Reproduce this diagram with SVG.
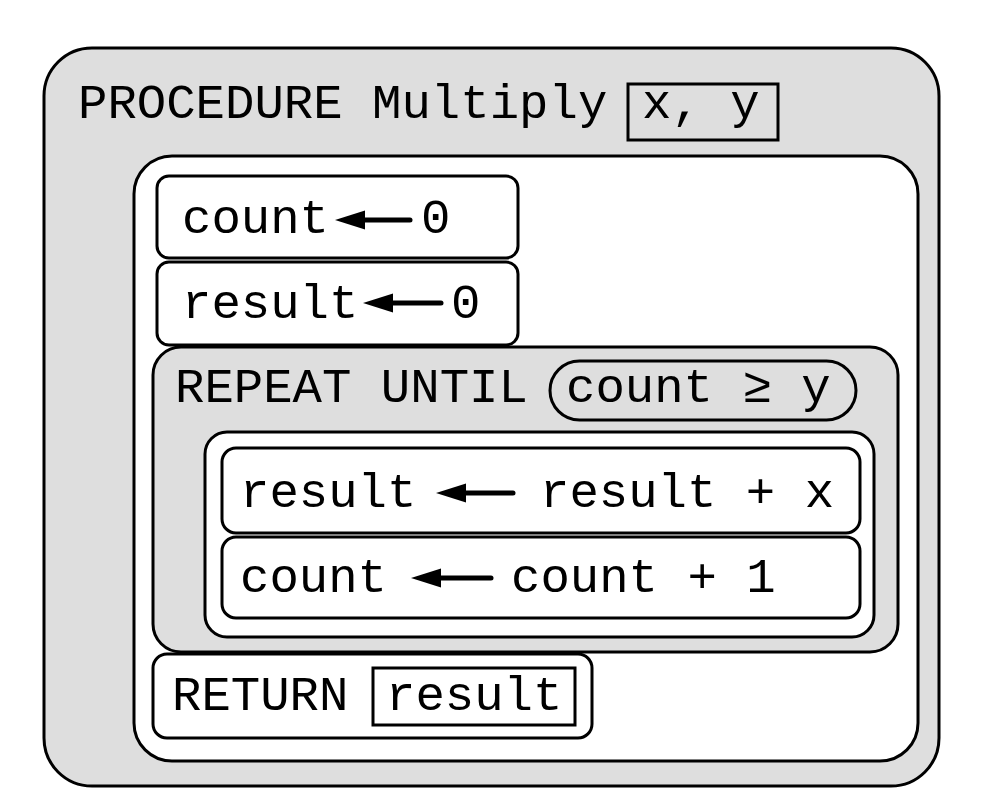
<svg xmlns="http://www.w3.org/2000/svg" width="1000" height="810" viewBox="0 0 1000 810">
<style>
.gray{fill:#dedede;stroke:#000;stroke-width:3}
.white{fill:#fff;stroke:#000;stroke-width:3}
.box{fill:none;stroke:#000;stroke-width:3}
.t{font-family:"Liberation Mono","Courier New",monospace;font-size:49px;fill:#000}
.arr{stroke:#000;stroke-width:5;stroke-linecap:round;marker-end:url(#head)}
</style>
<defs>
<marker id="head" markerUnits="userSpaceOnUse" markerWidth="34" markerHeight="26" viewBox="0 -13 34 26" refX="12" refY="0" orient="auto">
<path d="M0,-9.5 L30,0 L0,9.5 Z" fill="#000"/>
</marker>
</defs>
<rect width="1000" height="810" fill="#fff"/>
<g id="procedure">
<rect class="gray" x="44" y="48" width="895" height="738" rx="48"/>
<text class="t" x="78" y="118">PROCEDURE Multiply</text>
<rect class="box" x="628" y="84" width="150" height="56"/>
<text class="t" x="642" y="118">x, y</text>
</g>
<g id="body">
<rect class="white" x="134" y="156" width="784" height="605" rx="38"/>
</g>
<g id="assign-count">
<rect class="white" x="157" y="176" width="361" height="82" rx="12"/>
<text class="t" x="182" y="233">count</text>
<line class="arr" x1="410" y1="220" x2="353" y2="220"/>
<text class="t" x="421" y="233">0</text>
</g>
<g id="assign-result">
<rect class="white" x="157" y="262" width="361" height="83" rx="12"/>
<text class="t" x="182" y="318">result</text>
<line class="arr" x1="441" y1="303" x2="381" y2="303"/>
<text class="t" x="451" y="318">0</text>
</g>
<g id="repeat">
<rect class="gray" x="153" y="347" width="745" height="305" rx="28"/>
<text class="t" x="175" y="402">REPEAT UNTIL</text>
<rect class="gray" x="550" y="361" width="306" height="59" rx="29.5"/>
<text class="t" x="566" y="402">count ≥ y</text>
<rect class="white" x="205" y="432" width="669" height="205" rx="22"/>
</g>
<g id="update-result">
<rect class="white" x="222" y="448" width="638" height="85" rx="14"/>
<text class="t" x="240" y="507">result</text>
<line class="arr" x1="513" y1="493" x2="454" y2="493"/>
<text class="t" x="540" y="507">result + x</text>
</g>
<g id="update-count">
<rect class="white" x="222" y="537" width="638" height="81" rx="14"/>
<text class="t" x="240" y="592">count</text>
<line class="arr" x1="491" y1="578" x2="429" y2="578"/>
<text class="t" x="511" y="592">count + 1</text>
</g>
<g id="return">
<rect class="white" x="153" y="654" width="439" height="84" rx="14"/>
<text class="t" x="172" y="710">RETURN</text>
<rect class="box" x="373" y="668" width="202" height="57"/>
<text class="t" x="386" y="710">result</text>
</g>
<g id="connectors"/>
</svg>
